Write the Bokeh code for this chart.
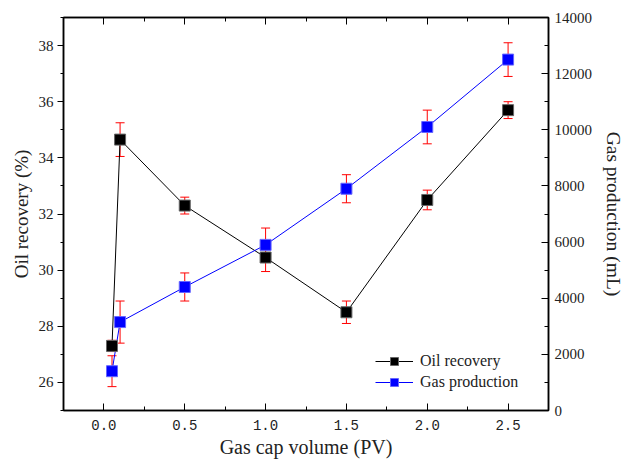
from bokeh.plotting import figure
from bokeh.models import (Range1d, LinearAxis, SingleIntervalTicker, ColumnDataSource,
                          Whisker, TeeHead, Legend, LegendItem, PrintfTickFormatter,
                          CustomJSTickFormatter)
from bokeh.embed import file_html
from bokeh.resources import INLINE

# ---- data ----
gas_cap = [0.05, 0.1, 0.5, 1.0, 1.5, 2.0, 2.5]
oil_recovery = [27.3, 34.65, 32.3, 30.45, 28.5, 32.5, 35.7]
oil_err = [0.2, 0.6, 0.3, 0.5, 0.4, 0.35, 0.3]
gas_production = [1400, 3150, 4400, 5900, 7900, 10100, 12500]
gas_err = [550, 750, 500, 600, 500, 600, 600]

src = ColumnDataSource(dict(
    x=gas_cap,
    oil=oil_recovery,
    oil_lo=[v - e for v, e in zip(oil_recovery, oil_err)],
    oil_hi=[v + e for v, e in zip(oil_recovery, oil_err)],
    gas=gas_production,
    gas_lo=[v - e for v, e in zip(gas_production, gas_err)],
    gas_hi=[v + e for v, e in zip(gas_production, gas_err)],
))

SERIF = "Liberation Serif"
TXT = "#222222"

p = figure(width=627, height=461, output_backend="svg", toolbar_location=None,
           x_range=Range1d(-0.25, 2.75), y_range=Range1d(25, 39),
           min_border_left=63, min_border_right=77, min_border_top=17, min_border_bottom=51)
p.extra_y_ranges = {"gas": Range1d(0, 14000)}
p.grid.grid_line_color = None
p.outline_line_color = "black"
p.outline_line_width = 1.5
p.background_fill_color = "white"
p.border_fill_color = "white"

# bottom axis
xa = p.xaxis[0]
xa.ticker = SingleIntervalTicker(interval=0.5, num_minor_ticks=2)
xa.formatter = PrintfTickFormatter(format="%.1f")
xa.axis_label = "Gas cap volume (PV)"
xa.axis_label_text_font = SERIF
xa.axis_label_text_font_size = "20px"
xa.axis_label_text_font_style = "normal"
xa.axis_label_text_color = TXT
xa.axis_label_standoff = 3
xa.major_label_text_font = "Liberation Mono"
xa.major_label_text_font_size = "14px"
xa.major_label_text_color = TXT
xa.major_label_standoff = 9
xa.major_tick_in = 7
xa.major_tick_out = 0
xa.minor_tick_in = 4
xa.minor_tick_out = 0
xa.axis_line_width = 1.5

# left axis
ya = p.yaxis[0]
ya.ticker = SingleIntervalTicker(interval=2, num_minor_ticks=2)
ya.axis_label = "Oil recovery (%)"
ya.axis_label_text_font = SERIF
ya.axis_label_text_font_size = "19px"
ya.axis_label_text_font_style = "normal"
ya.axis_label_text_color = TXT
ya.axis_label_standoff = 4
ya.major_label_text_font = SERIF
ya.major_label_text_font_size = "15px"
ya.major_label_text_color = TXT
ya.major_label_standoff = 4
ya.major_tick_in = 0
ya.major_tick_out = 6
ya.minor_tick_in = 0
ya.minor_tick_out = 3
ya.axis_line_width = 1.5

# right axis
ra = LinearAxis(y_range_name="gas", ticker=SingleIntervalTicker(interval=2000, num_minor_ticks=2))
ra.axis_label = "Gas production (mL)"
ra.axis_label_text_font = SERIF
ra.axis_label_text_font_size = "19.5px"
ra.axis_label_text_font_style = "normal"
ra.axis_label_text_color = TXT
ra.axis_label_standoff = 8
ra.major_label_text_font = SERIF
ra.major_label_text_font_size = "15px"
ra.major_label_text_color = TXT
ra.major_label_standoff = 6
ra.major_tick_in = 7
ra.major_tick_out = 0
ra.minor_tick_in = 4
ra.minor_tick_out = 0
ra.axis_line_width = 1.5
p.add_layout(ra, "right")

# top axis (ticks only, no labels)
ta = LinearAxis(ticker=SingleIntervalTicker(interval=0.5, num_minor_ticks=2))
ta.formatter = CustomJSTickFormatter(code="return '';")
ta.major_label_standoff = 0
ta.major_tick_in = 7
ta.major_tick_out = 0
ta.minor_tick_in = 4
ta.minor_tick_out = 0
ta.axis_line_width = 1.5
p.add_layout(ta, "above")

# lines
oil_line = p.line("x", "oil", source=src, line_color="black", line_width=1)
gas_line = p.line("x", "gas", source=src, line_color="blue", line_width=1, y_range_name="gas")

# error bars
oil_w = Whisker(base="x", lower="oil_lo", upper="oil_hi", source=src, line_color="red", line_width=1,
                upper_head=TeeHead(size=9, line_color="red", line_width=1),
                lower_head=TeeHead(size=9, line_color="red", line_width=1))
gas_w = Whisker(base="x", lower="gas_lo", upper="gas_hi", source=src, line_color="red", line_width=1,
                y_range_name="gas",
                upper_head=TeeHead(size=9, line_color="red", line_width=1),
                lower_head=TeeHead(size=9, line_color="red", line_width=1))
p.add_layout(oil_w)
p.add_layout(gas_w)

# markers
oil_pts = p.scatter("x", "oil", source=src, marker="square", size=11,
                    fill_color="black", line_color="#666666", line_width=1)
gas_pts = p.scatter("x", "gas", source=src, marker="square", size=11,
                    fill_color="blue", line_color="#6666ff", line_width=1, y_range_name="gas")

legend = Legend(items=[LegendItem(label="Oil recovery", renderers=[oil_line, oil_pts]),
                       LegendItem(label="Gas production", renderers=[gas_line, gas_pts])],
                location=(312, 18), border_line_color=None, background_fill_alpha=0,
                label_text_font=SERIF, label_text_font_size="16px", label_text_color=TXT,
                glyph_width=38, glyph_height=20, label_height=20, spacing=1,
                padding=0, margin=0, label_standoff=7)
p.add_layout(legend)

open("out.html", "w").write(file_html(p, INLINE))
